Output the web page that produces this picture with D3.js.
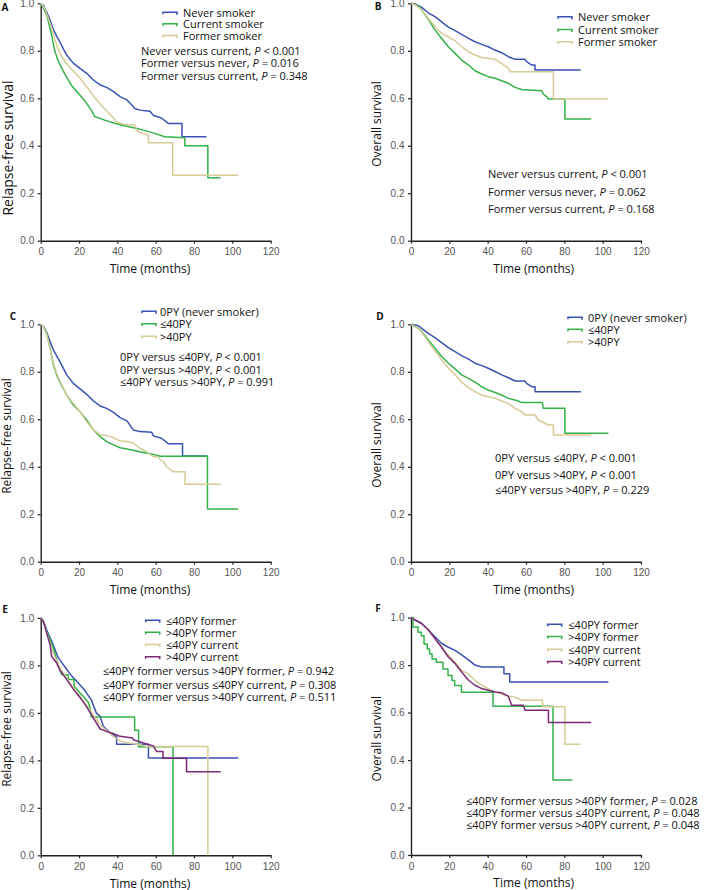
<!DOCTYPE html>
<html>
<head>
<meta charset="utf-8">
<script src="https://cdn.jsdelivr.net/npm/d3@7"></script>
<style>
body { margin: 0; background: #fff; }
svg text { font-family: "Open Sans", "Noto Sans", sans-serif; fill: #111; }
</style>
</head>
<body>
<svg id="chart" width="709" height="890"></svg>
<script>
// axis ticks
const timeTicks = [0, 20, 40, 60, 80, 100, 120];
const survTicks = [0, 0.2, 0.4, 0.6, 0.8, 1.0];

// curve vertices [months, survival]
// A - relapse-free survival by smoking status
const aNever = [[0,1],[1.5,0.99],[3,0.965],[4.9,0.93],[6.6,0.89],[8.3,0.862],[10,0.838],[12,0.805],[13.6,0.782],[15.5,0.762],[17,0.748],[20.5,0.726],[24,0.705],[27.5,0.677],[31,0.656],[34.4,0.646],[38,0.628],[41.4,0.607],[45,0.593],[48.3,0.565],[49,0.557],[51.8,0.55],[57,0.545],[58.8,0.527],[63,0.517],[66.6,0.494],[73.7,0.494],[73.7,0.438],[86.5,0.438]];
const aCurrent = [[0,1],[1.5,0.98],[3.5,0.94],[5.6,0.87],[7.3,0.8],[9,0.76],[12.5,0.703],[16,0.655],[19.5,0.622],[23,0.59],[26.4,0.55],[28.2,0.523],[33.4,0.508],[38,0.496],[42,0.487],[50.8,0.472],[59.5,0.452],[64.7,0.438],[75.2,0.434],[75.2,0.40],[87.2,0.40],[87.2,0.265],[93.9,0.265]];
const aFormer = [[0,1],[2,0.98],[3.8,0.94],[5.6,0.9],[7.3,0.85],[9,0.81],[11,0.775],[14,0.74],[17,0.715],[20.5,0.685],[24,0.648],[27.5,0.61],[30,0.585],[33.4,0.555],[37,0.525],[39.7,0.5],[43.8,0.489],[49,0.487],[50.4,0.462],[53,0.452],[56.2,0.445],[56.2,0.413],[68.9,0.413],[68.9,0.276],[103,0.276]];

// B - overall survival by smoking status
const bNever = [[0,1],[2.1,0.997],[5.6,0.983],[9,0.96],[12.5,0.944],[16,0.922],[19.5,0.9],[23,0.885],[26.4,0.869],[30,0.852],[33.4,0.838],[36.9,0.827],[40.3,0.817],[43.8,0.803],[47.3,0.792],[50.8,0.775],[54.3,0.764],[59.5,0.764],[60.3,0.754],[63,0.74],[64.7,0.74],[64.7,0.719],[88.5,0.719]];
const bCurrent = [[0,1],[3.8,0.989],[5.6,0.972],[9,0.933],[12.5,0.888],[16,0.852],[19.5,0.817],[23,0.789],[26.4,0.761],[30,0.74],[33.4,0.716],[36.9,0.702],[40.3,0.691],[43.8,0.684],[47.3,0.674],[50.8,0.663],[54.3,0.646],[57.7,0.637],[61.2,0.635],[68.2,0.632],[69,0.618],[70.8,0.607],[71.7,0.597],[80.3,0.597],[80.3,0.513],[94,0.513]];
const bFormer = [[0,1],[2.1,0.993],[5.6,0.972],[9,0.937],[12.5,0.902],[16,0.873],[19.5,0.859],[23,0.842],[26.4,0.817],[30,0.796],[33.4,0.782],[36.9,0.772],[43.8,0.764],[47.3,0.747],[50.8,0.726],[51.7,0.712],[74.3,0.712],[74.3,0.597],[103,0.597]];

// C - relapse-free survival by pack-years
const cNever = [[0,1],[1.5,0.99],[3.1,0.966],[4.9,0.927],[6.6,0.892],[10,0.843],[13.6,0.787],[17,0.751],[20.5,0.728],[24,0.705],[27.5,0.677],[31,0.656],[34.4,0.646],[38,0.629],[41.4,0.607],[45,0.593],[48.3,0.555],[51.8,0.548],[57.9,0.545],[58.8,0.53],[63,0.52],[66.6,0.497],[74,0.497],[74,0.445],[87,0.445]];
const cLe40 = [[0,1],[1.5,0.99],[3.1,0.962],[4.9,0.899],[6.6,0.829],[8.3,0.787],[10,0.756],[13.6,0.702],[17,0.66],[20.5,0.632],[24,0.597],[27.5,0.555],[31,0.527],[34.4,0.506],[38,0.492],[41.4,0.48],[45,0.475],[51.8,0.463],[58.8,0.452],[62.3,0.444],[87,0.444],[87,0.222],[103,0.222]];
const cGt40 = [[0,1],[1.5,0.99],[3.1,0.958],[4.9,0.899],[6.6,0.836],[8.3,0.794],[10,0.761],[13.6,0.702],[17,0.667],[20.5,0.632],[24,0.59],[27.5,0.555],[31,0.535],[34.4,0.532],[38,0.522],[41.4,0.508],[45,0.506],[48.3,0.5],[51.8,0.478],[55.3,0.463],[58.8,0.442],[60.5,0.442],[64,0.421],[65.7,0.4],[69.2,0.379],[75.3,0.379],[75.3,0.326],[93.9,0.326]];

// D - overall survival by pack-years
const dNever = [[0,1],[3.8,0.994],[5.6,0.983],[9,0.962],[12.5,0.944],[16,0.923],[19.5,0.902],[23,0.885],[26.4,0.868],[30,0.853],[33.4,0.836],[36.9,0.826],[40.3,0.815],[43.8,0.801],[47.3,0.787],[50.8,0.775],[54.3,0.761],[59.5,0.761],[60.3,0.751],[63,0.737],[64.7,0.737],[64.7,0.716],[88.7,0.716]];
const dLe40 = [[0,1],[3.8,0.983],[5.6,0.969],[9,0.934],[12.5,0.899],[16,0.864],[19.5,0.836],[23,0.812],[26.4,0.787],[30,0.772],[33.4,0.756],[36.9,0.737],[40.3,0.723],[43.8,0.713],[47.3,0.702],[50.8,0.688],[54.3,0.681],[57.7,0.671],[68.5,0.671],[69,0.646],[80.3,0.646],[80.3,0.541],[103,0.541]];
const dGt40 = [[0,1],[3.8,0.983],[5.6,0.966],[9,0.927],[12.5,0.888],[16,0.85],[19.5,0.815],[23,0.787],[26.4,0.756],[30,0.733],[33.4,0.716],[36.9,0.702],[40.3,0.695],[43.8,0.688],[47.3,0.677],[50.8,0.667],[54.3,0.646],[57.7,0.632],[59.5,0.618],[64.7,0.618],[66.4,0.597],[71.7,0.576],[74.3,0.576],[74.3,0.534],[94,0.534]];

// E - relapse-free survival by pack-years and status
const eFormerLe40 = [[0,1],[1.4,0.986],[3.1,0.95],[5.6,0.905],[9,0.835],[12.5,0.795],[16,0.757],[19.5,0.727],[23,0.695],[26.4,0.655],[29,0.6],[31,0.585],[32.7,0.543],[36.2,0.515],[39.6,0.5],[39.6,0.468],[56.2,0.468],[56.2,0.41],[103,0.41]];
const eFormerGt40 = [[0,1],[1.4,0.986],[3.1,0.944],[4.9,0.909],[6.6,0.873],[8.3,0.824],[10,0.782],[11,0.761],[14.4,0.761],[14.4,0.74],[17.4,0.74],[17.4,0.712],[19.1,0.698],[20.5,0.684],[22.3,0.669],[24.9,0.644],[25.7,0.62],[26.4,0.583],[49,0.583],[49,0.527],[51.1,0.527],[51.1,0.457],[69,0.457],[69,0]];
const eCurrentLe40 = [[0,1],[1.4,0.985],[3.1,0.937],[4.9,0.894],[6.6,0.852],[8.3,0.817],[10,0.79],[13.6,0.745],[17,0.705],[20.5,0.67],[24,0.63],[27.5,0.59],[31,0.55],[34.4,0.525],[38,0.5],[41.4,0.482],[45,0.474],[51.8,0.466],[55.3,0.458],[87.2,0.458],[87.2,0]];
const eCurrentGt40 = [[0,1],[1.4,0.985],[3.1,0.937],[4.9,0.887],[5.7,0.838],[8.3,0.81],[10,0.78],[13.6,0.74],[17,0.70],[20.5,0.665],[24,0.625],[27.5,0.578],[31,0.532],[34.4,0.522],[38,0.512],[41.4,0.501],[48,0.494],[48.3,0.487],[53.6,0.473],[58.8,0.461],[60.5,0.437],[63.8,0.437],[63.8,0.409],[76.1,0.409],[76.1,0.352],[93.9,0.352]];

// F - overall survival by pack-years and status
const fFormerLe40 = [[0,1],[2.1,0.99],[5.6,0.975],[9,0.947],[12.5,0.919],[16,0.891],[19.5,0.875],[23,0.862],[26.4,0.843],[30,0.822],[33.4,0.8],[36.9,0.792],[48.5,0.792],[48.5,0.764],[51.5,0.764],[51.5,0.729],[103,0.729]];
const fFormerGt40 = [[0,1],[1,1],[1,0.96],[3.7,0.96],[3.7,0.938],[5.4,0.938],[5.4,0.924],[6.8,0.924],[6.8,0.889],[8.5,0.889],[8.5,0.868],[9.7,0.868],[9.7,0.847],[11,0.847],[11,0.826],[13.2,0.826],[13.2,0.812],[16.7,0.812],[16.7,0.784],[19.3,0.784],[19.3,0.756],[21.4,0.756],[21.4,0.735],[22.8,0.735],[22.8,0.714],[26.3,0.714],[26.3,0.686],[42.8,0.686],[42.8,0.627],[74.1,0.627],[74.1,0.316],[84.3,0.316]];
const fCurrentLe40 = [[0,1],[2.1,0.989],[5.6,0.975],[9,0.947],[12.5,0.912],[16,0.877],[19.5,0.841],[23,0.813],[26.4,0.778],[30,0.762],[33.4,0.736],[36.9,0.715],[40.3,0.701],[43.8,0.687],[47.3,0.677],[50.8,0.669],[54.3,0.665],[57.7,0.652],[68.5,0.652],[69,0.624],[80.3,0.624],[80.3,0.467],[88.5,0.467]];
const fCurrentGt40 = [[0,1],[2.1,0.99],[5.6,0.975],[9,0.95],[12.5,0.912],[16,0.874],[19.5,0.834],[23,0.806],[26.4,0.771],[30,0.736],[33.4,0.715],[36.9,0.701],[40.3,0.694],[43.8,0.687],[47.3,0.683],[50.8,0.669],[52.5,0.631],[58.6,0.631],[59.5,0.61],[71.7,0.61],[71.7,0.558],[94,0.558]];

// legend names
const statusNames = ["Never smoker", "Current smoker", "Former smoker"];
const pyNames = ["0PY (never smoker)", "≤40PY", ">40PY"];
const groupNames = ["≤40PY former", ">40PY former", "≤40PY current", ">40PY current"];

// log-rank comparisons
const aTests = [["Never versus current", "< 0.001"], ["Former versus never", "= 0.016"], ["Former versus current", "= 0.348"]];
const bTests = [["Never versus current", "< 0.001"], ["Former versus never", "= 0.062"], ["Former versus current", "= 0.168"]];
const cTests = [["0PY versus ≤40PY", "< 0.001"], ["0PY versus >40PY", "< 0.001"], ["≤40PY versus >40PY", "= 0.991"]];
const dTests = [["0PY versus ≤40PY", "< 0.001"], ["0PY versus >40PY", "< 0.001"], ["≤40PY versus >40PY", "= 0.229"]];
const eTests = [["≤40PY former versus >40PY former", "= 0.942"], ["≤40PY former versus ≤40PY current", "= 0.308"], ["≤40PY former versus >40PY current", "= 0.511"]];
const fTests = [["≤40PY former versus >40PY former", "= 0.028"], ["≤40PY former versus ≤40PY current", "= 0.048"], ["≤40PY former versus >40PY current", "= 0.048"]];

const blue = "#3b52b2", green = "#34b149", tan = "#d5cb96", purple = "#7b2a78";

const panels = [
    { letter: "A", lx: 5, ly: 7, left: 40.7, bottom: 240.7, title: "Relapse-free survival", titleX: 8, titleY: 148, titleSize: 14,
      curves: [aNever, aCurrent, aFormer], colors: [blue, green, tan], names: statusNames,
      legX: 163, legText: 183, legRows: [12.7, 24.3, 36], tests: aTests, pX: 141, pRows: [51, 63.3, 76] },
    { letter: "B", lx: 378, ly: 6.5, left: 411, bottom: 240.7, title: "Overall survival", titleX: 376.7, titleY: 124, titleSize: 12,
      curves: [bNever, bCurrent, bFormer], colors: [blue, green, tan], names: statusNames,
      legX: 558, legText: 578, legRows: [17.3, 30, 42.3], tests: bTests, pX: 488, pRows: [174, 191.7, 209.3] },
    { letter: "C", lx: 13, ly: 316, left: 40.7, bottom: 561.7, title: "Relapse-free survival", titleX: 6.7, titleY: 436, titleSize: 12,
      curves: [cNever, cLe40, cGt40], colors: [blue, green, tan], names: pyNames,
      legX: 142, legText: 160, legRows: [311.7, 324.3, 336.7], tests: cTests, pX: 120, pRows: [357, 369.7, 382.3] },
    { letter: "D", lx: 380, ly: 316, left: 411, bottom: 561.7, title: "Overall survival", titleX: 376.7, titleY: 445, titleSize: 12,
      curves: [dNever, dLe40, dGt40], colors: [blue, green, tan], names: pyNames,
      legX: 568, legText: 588, legRows: [317.7, 329.7, 342.3], tests: dTests, pX: 495, pRows: [458, 475, 490] },
    { letter: "E", lx: 5, ly: 609.5, left: 40.7, bottom: 855.3, title: "Relapse-free survival", titleX: 6.7, titleY: 729, titleSize: 12,
      curves: [eFormerLe40, eFormerGt40, eCurrentLe40, eCurrentGt40], colors: [blue, green, tan, purple], names: groupNames,
      legX: 145.7, legText: 166, legRows: [620.7, 632.7, 645, 657.3], tests: eTests, pX: 102.7, pRows: [671, 684.7, 697.3] },
    { letter: "F", lx: 378, ly: 608.5, left: 411, bottom: 855, title: "Overall survival", titleX: 376.7, titleY: 738.7, titleSize: 12,
      curves: [fFormerLe40, fFormerGt40, fCurrentLe40, fCurrentGt40], colors: [blue, green, tan, purple], names: groupNames,
      legX: 547.7, legText: 568.3, legRows: [624.7, 637, 649.7, 662], tests: fTests, pX: 466, pRows: [801, 813.3, 825] }
];

const svg = d3.select("#chart");
const plotW = 230, plotH = 237.4;

let drawPanel = (p) => {
    var g = svg.append("g");

    var x = d3.scaleLinear().domain([0, 120]).range([p.left, p.left + plotW]);
    var y = d3.scaleLinear().domain([0, 1]).range([p.bottom, p.bottom - plotH]);

    // axes
    var xAxis = g.append("g")
        .attr("transform", "translate(0," + p.bottom + ")")
        .call(d3.axisBottom(x).tickValues(timeTicks).tickSize(3).tickSizeOuter(0).tickPadding(4.5).tickFormat(d3.format("d")));
    var yAxis = g.append("g")
        .attr("transform", "translate(" + p.left + ",0)")
        .call(d3.axisLeft(y).tickValues(survTicks).tickSize(3).tickSizeOuter(0).tickPadding(3.5).tickFormat(d3.format(".1f")));
    [xAxis, yAxis].forEach(a => {
        a.select(".domain").attr("stroke", "#222").attr("stroke-width", 1.4);
        a.selectAll(".tick line").attr("stroke", "#222").attr("stroke-width", 1.2);
        a.selectAll(".tick text")
            .style("font-family", "'Liberation Sans', Arial, sans-serif")
            .style("font-size", "10px")
            .style("fill", "#555");
    });

    // curves
    var line = d3.line().x(d => x(d[0])).y(d => y(d[1]));
    p.curves.forEach((c, i) => {
        g.append("path")
            .attr("d", line(c))
            .attr("fill", "none")
            .attr("stroke", p.colors[i])
            .attr("stroke-width", 1.5)
            .attr("stroke-linejoin", "round");
    });

    // panel letter
    g.append("text")
        .attr("x", p.lx).attr("y", p.ly).attr("dy", "0.35em")
        .attr("text-anchor", "middle")
        .style("font-size", "10px").style("font-weight", "bold")
        .text(p.letter);

    // axis titles
    g.append("text")
        .attr("transform", "translate(" + p.titleX + "," + p.titleY + ") rotate(-90)")
        .attr("dy", "0.35em")
        .attr("text-anchor", "middle")
        .style("font-size", p.titleSize + "px")
        .text(p.title);
    g.append("text")
        .attr("x", p.left + (p.left < 100 ? 109.3 : 122.7))
        .attr("y", p.bottom + 28)
        .attr("dy", "0.35em")
        .attr("text-anchor", "middle")
        .style("font-size", "12px")
        .text("Time (months)");

    // legend
    p.names.forEach((name, i) => {
        var ry = p.legRows[i];
        g.append("path")
            .attr("d", "M" + p.legX + "," + (ry + 1.5) + "V" + (ry - 0.5) + "H" + (p.legX + 14) + "V" + (ry + 2))
            .attr("fill", "none")
            .attr("stroke", p.colors[i])
            .attr("stroke-width", 1.6);
        g.append("text")
            .attr("x", p.legText).attr("y", ry).attr("dy", "0.35em")
            .style("font-size", "11px")
            .text(name);
    });

    // p values
    p.tests.forEach((t, i) => {
        var txt = g.append("text")
            .attr("x", p.pX).attr("y", p.pRows[i]).attr("dy", "0.35em")
            .style("font-size", "11px");
        txt.append("tspan").text(t[0] + ", ");
        txt.append("tspan").style("font-style", "italic").text("P");
        txt.append("tspan").text(" " + t[1]);
    });
}

panels.forEach(drawPanel);
</script>
</body>
</html>
